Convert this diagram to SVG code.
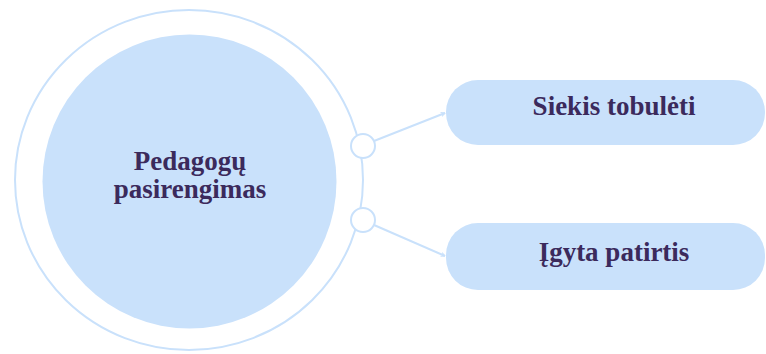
<svg xmlns="http://www.w3.org/2000/svg" width="766" height="354" viewBox="0 0 766 354">
  <style>
    .ring { fill: none; stroke: #c9e1fb; stroke-width: 2; }
    .hub { fill: #c9e1fb; }
    .port { fill: #ffffff; stroke: #c9e1fb; stroke-width: 2; }
    .box { fill: #c9e1fb; }
    .link { fill: none; stroke: #c9e1fb; stroke-width: 2; marker-end: url(#arrow); }
    .label { font-family: "Liberation Serif", "Times New Roman", serif; font-weight: bold; font-size: 27px; fill: #3b2a5c; text-anchor: middle; }
  </style>
  <defs>
    <marker id="arrow" viewBox="0 0 10 10" refX="9" refY="5" markerWidth="5" markerHeight="5" orient="auto" markerUnits="userSpaceOnUse">
      <path d="M1,1 L9,5 L1,9" fill="none" stroke="#c9e1fb" stroke-width="2"/>
    </marker>
  </defs>
  <rect width="766" height="354" fill="#ffffff"/>

  <g id="hub-node">
    <ellipse class="ring" cx="189" cy="180" rx="174" ry="170"/>
    <circle class="hub" cx="189.5" cy="181.5" r="147"/>
    <text class="label" x="190" y="170">Pedagogų</text>
    <text class="label" x="190" y="198">pasirengimas</text>
  </g>

  <g id="connectors">
    <line class="link" x1="374" y1="141" x2="445" y2="113"/>
    <line class="link" x1="374" y1="225" x2="445" y2="256"/>
    <circle class="port" cx="363" cy="146" r="12"/>
    <circle class="port" cx="363" cy="220" r="12"/>
  </g>

  <g id="node-siekis">
    <rect class="box" x="446" y="80" width="319" height="65" rx="32" ry="32"/>
    <text class="label" x="614" y="115">Siekis tobulėti</text>
  </g>

  <g id="node-patirtis">
    <rect class="box" x="446" y="223" width="319" height="67" rx="32" ry="32"/>
    <text class="label" x="614" y="261">Įgyta patirtis</text>
  </g>
</svg>
